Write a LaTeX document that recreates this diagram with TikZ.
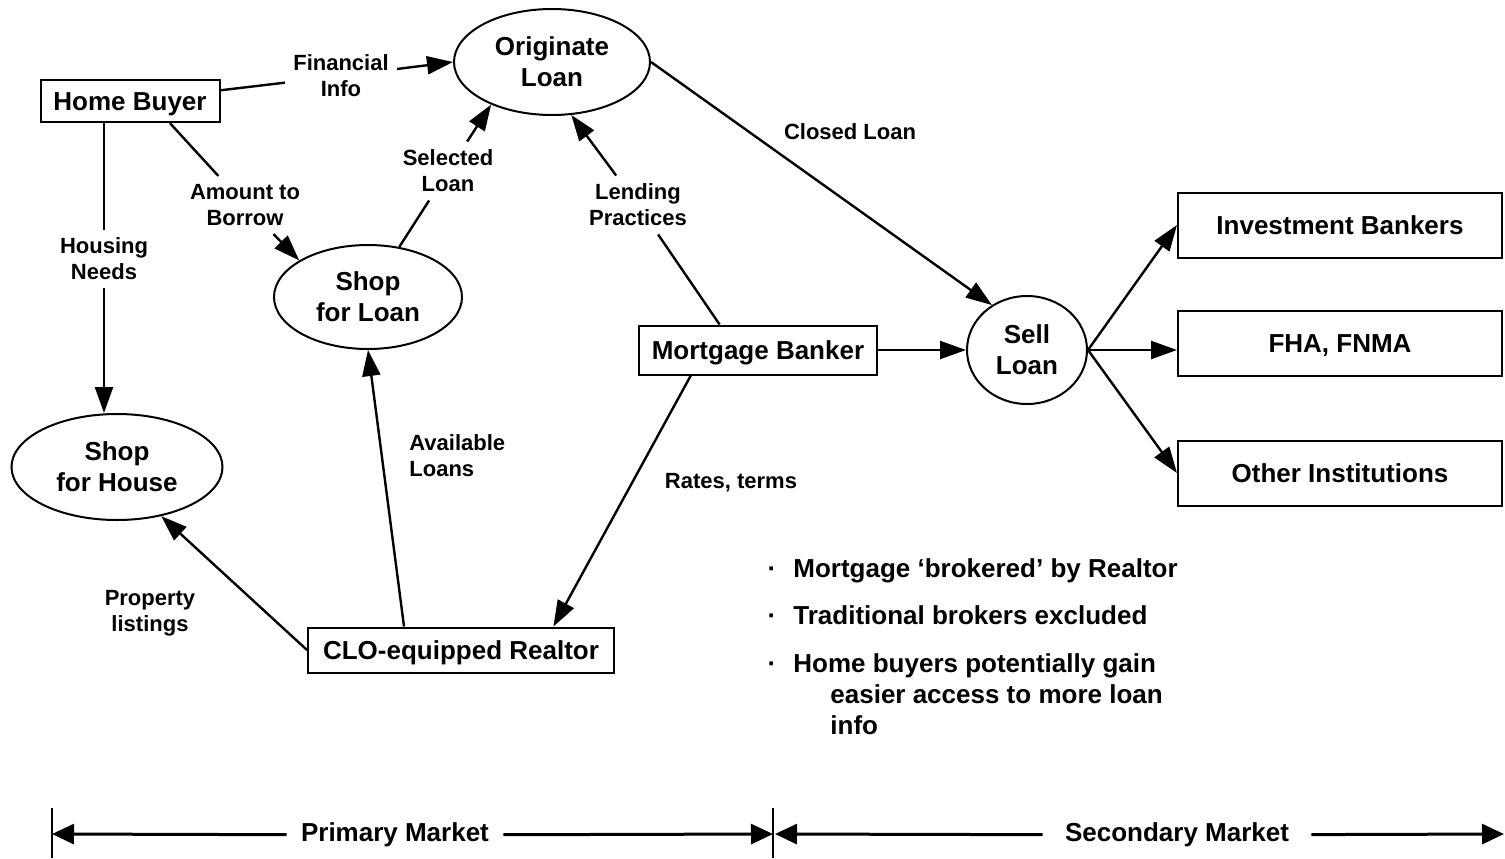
\documentclass[tikz,border=0pt]{standalone}
\usepackage{fontspec}
\setmainfont{Liberation Sans}
\usetikzlibrary{shapes.geometric,arrows.meta,calc}

\begin{document}
\begin{tikzpicture}[x=0.5pt,y=-0.5pt,
  every node/.style={inner sep=0pt},
  bigtext/.style={font=\fontsize{13}{15.5}\selectfont\bfseries},
  smalltext/.style={font=\fontsize{11}{13}\selectfont\bfseries},
  conn/.style={line width=1.2pt},
  arr/.style={conn,-{Triangle[length=13pt,width=9pt]}},
  procbox/.style={draw,line width=1pt,rectangle,bigtext,text height=9.4pt,text depth=0pt},
  proc/.style={draw,line width=1pt,ellipse,align=center,bigtext},
  lbl/.style={align=center,smalltext,inner sep=4pt},
  bullettext/.style={anchor=base west,bigtext},
  span/.style={line width=1.5pt},
  spanarr/.style={span,-{Triangle[length=11pt,width=10pt]}},
]
\useasboundingbox (0,0) rectangle (1505,858);

% ---- process nodes ----
\node[procbox, minimum width=89.5pt, minimum height=21pt] (hb) at (130,101) {Home Buyer};
\node[proc, minimum width=98pt, minimum height=53pt] (orig) at (552,62) {Originate\\Loan};
\node[proc, minimum width=94pt, minimum height=52pt] (sloan) at (368,297) {Shop\\for Loan};
\node[proc, minimum width=105.5pt, minimum height=53pt] (shouse) at (117,467) {Shop\\for House};
\node[procbox, minimum width=119pt, minimum height=24.5pt] (mb) at (758,350) {Mortgage Banker};
\node[proc, minimum width=60pt, minimum height=54pt] (sell) at (1027,350) {Sell\\Loan};
\node[procbox, minimum width=162pt, minimum height=32.5pt] (ib) at (1340,225) {Investment Bankers};
\node[procbox, minimum width=162pt, minimum height=32.5pt] (fha) at (1340,343) {FHA, FNMA};
\node[procbox, minimum width=162pt, minimum height=32.5pt] (oi) at (1340,473) {Other Institutions};
\node[procbox, minimum width=153pt, minimum height=22.5pt] (rl) at (461,650) {CLO-equipped Realtor};

% ---- flow labels ----
\node[lbl] (lfin) at (341,76) {Financial\\Info};
\node[lbl] (lamt) at (245,205) {Amount to\\Borrow};
\node[lbl] (lneed) at (104,259) {Housing\\Needs};
\node[lbl] (lsel) at (448,171) {Selected\\Loan};
\node[lbl] (llend) at (638,205) {Lending\\Practices};
\node[lbl] (lclosed) at (850,132) {Closed Loan};
\node[lbl, align=left, anchor=west] (lavail) at (401,456) {Available\\Loans};
\node[lbl] (lprop) at (150,613) {Property\\listings};
\node[lbl] (lrates) at (731,483) {Rates, terms};

% ---- flows ----
\draw[conn] (hb) -- (lfin);
\draw[arr] (lfin) -- (orig.west);
\draw[conn] ($(hb.south west)!0.72!(hb.south east)$) -- (lamt);
\draw[arr] (lamt) -- (sloan.152);
\draw[conn] (lneed.north |- hb.south) -- (lneed.north);
\draw[arr] (lneed.south) -- (lneed.south |- shouse.north);
\draw[conn] (sloan.58) -- (lsel);
\draw[arr] (lsel) -- (orig.-145);
\draw[conn] ($(mb.north west)!0.34!(mb.north east)$) -- (llend);
\draw[arr] (llend) -- (orig.-70);
\draw[arr] (orig.east) -- (sell.128);
\draw[arr] (mb.east) -- (sell.west);
\draw[arr] (sell.east) -- (ib.west);
\draw[arr] (sell.east) -- (sell.east -| fha.west);
\draw[arr] (sell.east) -- (oi.west);
\draw[arr] ($(rl.north west)!0.315!(rl.north east)$) -- (sloan.south);
\draw[arr] (rl.west) -- (shouse.-48);
\draw[arr] ($(mb.south west)!0.22!(mb.south east)$) -- ($(rl.north west)!0.8!(rl.north east)$);

% ---- notes ----
\node[bigtext, anchor=base] (d1) at (772,577) {·};
\node[bigtext, anchor=base] (d2) at (772,624) {·};
\node[bigtext, anchor=base] (d3) at (772,672) {·};
\node[bullettext] (b1) at (793,577) {Mortgage ‘brokered’ by Realtor};
\node[bullettext] (b2) at (793,624) {Traditional brokers excluded};
\node[bullettext] (b3) at (793,672) {Home buyers potentially gain};
\node[bullettext] (b3a) at (830,703) {easier access to more loan};
\node[bullettext] (b3b) at (830,734) {info};

% ---- market span ----
\coordinate (t1a) at (52,808);
\coordinate (t1b) at (52,858);
\coordinate (t1m) at (52,834);
\coordinate (t2a) at (773,808);
\coordinate (t2b) at (773,858);
\coordinate (t2m) at (773,834);
\coordinate (t3m) at (1504,834);
\draw[line width=1pt] (t1a) -- (t1b);
\draw[line width=1pt] (t2a) -- (t2b);
\node[bigtext, inner xsep=7pt] (pm) at (395,835) {Primary Market};
\node[bigtext, inner xsep=11pt] (sm) at (1177,835) {Secondary Market};
\draw[spanarr] (pm) -- (t1m);
\draw[spanarr] (pm) -- (t2m);
\draw[spanarr] (sm) -- ([xshift=1pt]t2m);
\draw[spanarr] (sm) -- (t3m);
\end{tikzpicture}
\end{document}
